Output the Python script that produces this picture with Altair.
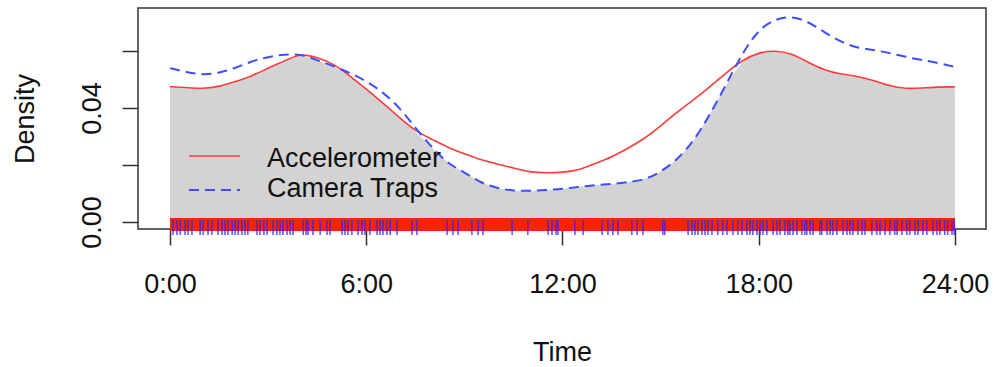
import altair as alt
import pandas as pd

# Time of day (hours) at which the kernel densities are tabulated
hours = [0.0, 0.5, 1.0, 1.5, 2.0, 2.5, 3.0, 3.5, 4.0, 4.5, 5.0, 5.5, 6.0, 6.5,
         7.0, 7.5, 8.0, 8.5, 9.0, 9.5, 10.0, 10.5, 11.0, 11.5, 12.0, 12.5,
         13.0, 13.5, 14.0, 14.5, 15.0, 15.5, 16.0, 16.5, 17.0, 17.5, 18.0,
         18.5, 19.0, 19.5, 20.0, 20.5, 21.0, 21.5, 22.0, 22.5, 23.0, 23.5, 24.0]

# Activity density estimated from accelerometer records
accel_density = [0.0475, 0.0472, 0.0467, 0.0475, 0.0493, 0.0512, 0.0540, 0.0565,
                 0.0592, 0.0577, 0.0556, 0.0512, 0.0467, 0.0418, 0.0368, 0.0319,
                 0.0291, 0.0261, 0.0239, 0.0218, 0.0204, 0.0189, 0.0175, 0.0172,
                 0.0174, 0.0182, 0.0205, 0.0228, 0.0258, 0.0292, 0.0337, 0.0386,
                 0.0428, 0.0474, 0.0523, 0.0568, 0.0595, 0.0602, 0.0592, 0.0561,
                 0.0533, 0.0519, 0.0512, 0.0498, 0.0477, 0.0467, 0.0470, 0.0474,
                 0.0474]

# Activity density estimated from camera-trap detections
camera_density = [0.0540, 0.0526, 0.0516, 0.0523, 0.0540, 0.0565, 0.0579, 0.0589,
                  0.0588, 0.0568, 0.0547, 0.0523, 0.0495, 0.0456, 0.0404, 0.0330,
                  0.0263, 0.0204, 0.0175, 0.0137, 0.0119, 0.0109, 0.0109, 0.0112,
                  0.0116, 0.0123, 0.0130, 0.0133, 0.0140, 0.0147, 0.0175, 0.0218,
                  0.0281, 0.0375, 0.0481, 0.0593, 0.0676, 0.0712, 0.0722, 0.0704,
                  0.0667, 0.0632, 0.0611, 0.0604, 0.0593, 0.0579, 0.0568, 0.0558,
                  0.0544]

# Camera-trap detection times (hours), shown as a rug
camera_times = [0.09, 0.21, 0.31, 0.46, 0.55, 0.67, 0.92, 1.01, 1.16, 1.28, 1.47,
                1.59, 1.68, 1.77, 1.90, 1.99, 2.08, 2.20, 2.29, 2.38, 2.66, 2.75,
                2.87, 2.97, 3.15, 3.27, 3.36, 3.45, 3.58, 3.67, 3.76, 4.07, 4.16,
                4.22, 4.37, 4.59, 4.80, 4.89, 5.26, 5.35, 5.44, 5.56, 5.75, 5.87,
                5.96, 6.11, 6.33, 6.42, 6.51, 6.63, 6.73, 6.94, 7.40, 7.55, 8.47,
                8.65, 8.81, 9.23, 9.42, 9.57, 10.46, 10.94, 11.56, 11.68, 11.80,
                11.86, 12.38, 12.63, 13.21, 13.39, 13.54, 13.70, 14.12, 14.28,
                14.46, 15.07, 15.13, 15.84, 15.96, 16.05, 16.14, 16.26, 16.36,
                16.45, 16.57, 16.75, 16.90, 17.03, 17.21, 17.36, 17.49, 17.64,
                17.73, 17.82, 17.95, 18.04, 18.13, 18.25, 18.44, 18.56, 18.65,
                18.80, 18.89, 18.95, 19.05, 19.17, 19.32, 19.41, 19.47, 19.57,
                19.66, 19.87, 19.93, 20.09, 20.18, 20.27, 20.39, 20.58, 20.70,
                20.79, 20.88, 21.03, 21.16, 21.25, 21.46, 21.61, 21.71, 21.86,
                22.01, 22.16, 22.23, 22.38, 22.53, 22.62, 22.78, 22.87, 23.02,
                23.14, 23.33, 23.45, 23.54, 23.69, 23.78, 23.91, 23.98]

# Accelerometer records cover the whole day densely, drawn as a solid rug band
accel_span = [0.0, 24.0]

series_names = ["Accelerometer", "Camera Traps"]
x_ticks = [0, 6, 12, 18, 24]
y_ticks = [0.0, 0.02, 0.04, 0.06]

RED = "#ff3b3b"
BLUE = "#3d4dff"
FONT = "Liberation Sans"
CURVE = "basis"

dens = pd.DataFrame({
    "hour": hours,
    "accel": accel_density,
    "camera": camera_density,
})
dens["overlap"] = dens[["accel", "camera"]].min(axis=1)

x_scale = alt.Scale(domain=[-0.98, 24.95], nice=False, zero=False)
y_scale = alt.Scale(domain=[-0.00246, 0.07509], nice=False, zero=False)

x_axis = alt.Axis(
    values=x_ticks, labelExpr="datum.value + ':00'", grid=False, domain=False,
    tickSize=16, tickWidth=1.5, tickColor="#333", labelPadding=47,
    labelBaseline="alphabetic", labelFontSize=27, labelColor="#111",
    labelFont=FONT, labelOverlap=False,
    title="Time", titleFont=FONT, titleFontSize=27, titleFontWeight="normal",
    titleColor="#111", titleX=424, titleY=131, titleBaseline="alphabetic",
    titleAlign="center",
)
y_axis = alt.Axis(
    values=y_ticks, grid=False, domain=False,
    labelExpr="(abs(datum.value - 0.02) < 1e-6 || abs(datum.value - 0.06) < 1e-6) ? '' : format(datum.value, '.2f')",
    tickSize=16, tickWidth=1.5, tickColor="#333", labelPadding=22,
    labelAngle=270, labelAlign="center", labelBaseline="alphabetic",
    labelFontSize=27, labelColor="#111", labelFont=FONT, labelOverlap=False,
    title="Density", titleFont=FONT, titleFontSize=27, titleFontWeight="normal",
    titleColor="#111", titleAngle=270, titleX=-105, titleY=110.5,
    titleAlign="center", titleBaseline="alphabetic",
)

base = alt.Chart(dens)

overlap_area = base.mark_area(color="#d3d3d3", interpolate=CURVE).encode(
    x=alt.X("hour:Q", scale=x_scale, axis=x_axis),
    y=alt.Y("overlap:Q", scale=y_scale, axis=y_axis),
    y2=alt.datum(0),
)

accel_line = base.mark_line(color=RED, strokeWidth=1.6, interpolate=CURVE).encode(
    x=alt.X("hour:Q", scale=x_scale),
    y=alt.Y("accel:Q", scale=y_scale),
)

camera_line = base.mark_line(
    color=BLUE, strokeWidth=2, strokeDash=[10, 6], interpolate=CURVE
).encode(
    x=alt.X("hour:Q", scale=x_scale),
    y=alt.Y("camera:Q", scale=y_scale),
)

accel_rug = alt.Chart(
    pd.DataFrame({"start": [accel_span[0]], "end": [accel_span[1]]})
).mark_rect(color="#ff2200").encode(
    x=alt.X("start:Q", scale=x_scale),
    x2="end:Q",
    y=alt.value(210),
    y2=alt.value(223),
)

camera_rug = alt.Chart(pd.DataFrame({"t": camera_times})).mark_rule(
    color="#2a22ff", opacity=0.7, strokeWidth=1.7
).encode(
    x=alt.X("t:Q", scale=x_scale),
    y=alt.value(212),
    y2=alt.value(227),
)

# Legend drawn in the lower-left of the panel
key_red = alt.Chart(pd.DataFrame({"label": [series_names[0]]})).mark_rule(
    color=RED, strokeWidth=1.6
).encode(x=alt.value(51), x2=alt.value(102), y=alt.value(148))
key_blue = alt.Chart(pd.DataFrame({"label": [series_names[1]]})).mark_rule(
    color=BLUE, strokeWidth=2, strokeDash=[10, 6]
).encode(x=alt.value(51), x2=alt.value(102), y=alt.value(182))
key_text_red = alt.Chart(pd.DataFrame({"label": [series_names[0]]})).mark_text(
    align="left", baseline="alphabetic", font=FONT, fontSize=27, color="#111"
).encode(x=alt.value(129), y=alt.value(159), text="label:N")
key_text_blue = alt.Chart(pd.DataFrame({"label": [series_names[1]]})).mark_text(
    align="left", baseline="alphabetic", font=FONT, fontSize=27, color="#111"
).encode(x=alt.value(129), y=alt.value(189), text="label:N")

chart = alt.layer(
    overlap_area, accel_line, camera_line, accel_rug, camera_rug,
    key_red, key_blue, key_text_red, key_text_blue,
).properties(
    width=848,
    height=221,
    autosize=alt.AutoSizeParams(type="none"),
    padding={"left": 138, "top": 8, "right": 7, "bottom": 138},
    background="white",
).configure_view(
    stroke="#333", strokeWidth=1.5
)

chart.save("out.html", embed_options={"renderer": "svg", "actions": False})
